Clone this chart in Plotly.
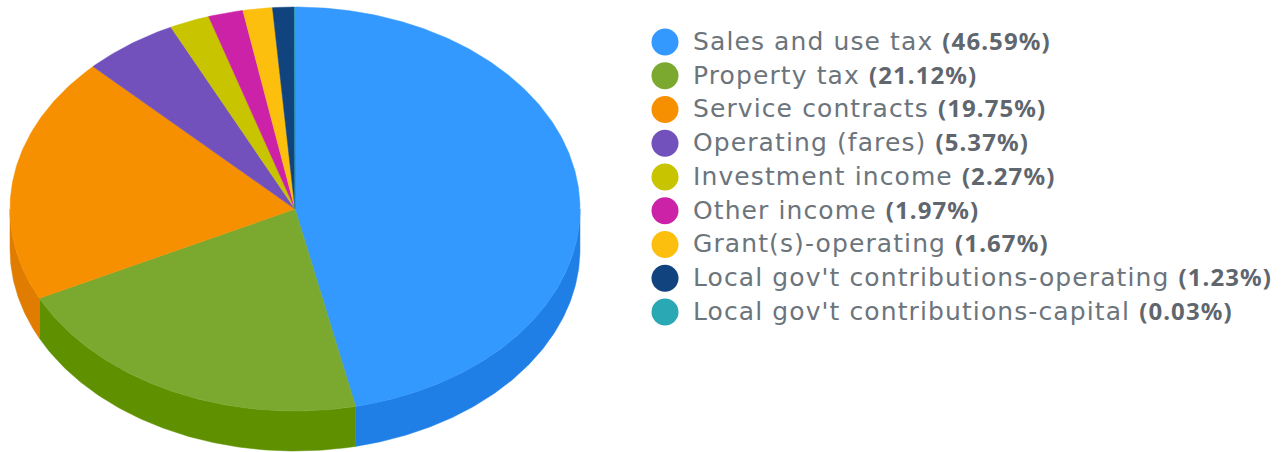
import math
import plotly.graph_objects as go

categories = [
    "Sales and use tax",
    "Property tax",
    "Service contracts",
    "Operating (fares)",
    "Investment income",
    "Other income",
    "Grant(s)-operating",
    "Local gov't contributions-operating",
    "Local gov't contributions-capital",
]
shares = [46.59, 21.12, 19.75, 5.37, 2.27, 1.97, 1.67, 1.23, 0.03]
top_colors = ["#3399FF", "#7BA92F", "#F79000", "#7251BC", "#C8C400",
              "#CB22A8", "#FCBF0E", "#11447F", "#2AA9B5"]
side_colors = ["#1F7FE6", "#5F9000", "#E07C00", "#5A3CA0", "#A8A400",
               "#A81088", "#D8A000", "#0A3060", "#1A8C98"]

CX, CY, RX, RY, DEPTH = 295, 209, 285, 202, 40
LEGEND_Y0, LEGEND_STEP = 42, 33.75
total = sum(shares)


def arc(t0, t1, dy=0.0):
    n = max(2, int(abs(t1 - t0) * 1.5))
    ts = [t0 + (t1 - t0) * i / n for i in range(n + 1)]
    xs = [CX + RX * math.sin(math.radians(t)) for t in ts]
    ys = [CY - RY * math.cos(math.radians(t)) + dy for t in ts]
    return xs, ys


fig = go.Figure()
start = 0.0
spans = []
for value in shares:
    end = start + value / total * 360
    spans.append((start, end))
    start = end

# Rim of the disc: only the part facing the viewer is visible
for (t0, t1), colour, name in zip(spans, side_colors, categories):
    a, b = max(t0, 90), min(t1, 270)
    if b <= a:
        continue
    x1, y1 = arc(a, b)
    x2, y2 = arc(b, a, DEPTH)
    fig.add_trace(go.Scatter(x=x1 + x2 + x1[:1], y=y1 + y2 + y1[:1], mode="lines",
                             fill="toself", fillcolor=colour,
                             line=dict(color=colour, width=0.5),
                             name=name, hoverinfo="name", showlegend=False))

# Top face wedges
for (t0, t1), colour, name in zip(spans, top_colors, categories):
    xs, ys = arc(t0, t1)
    fig.add_trace(go.Scatter(x=[CX] + xs + [CX], y=[CY] + ys + [CY], mode="lines",
                             fill="toself", fillcolor=colour,
                             line=dict(color=colour, width=0.5),
                             name=name, hoverinfo="name", showlegend=False))

# Key with coloured dots and labelled shares
rows = [LEGEND_Y0 + LEGEND_STEP * i for i in range(len(categories))]
fig.add_trace(go.Scatter(
    x=[665] * len(rows), y=rows, mode="markers",
    marker=dict(size=27, color=top_colors, line=dict(width=0)),
    hoverinfo="skip", showlegend=False))
fig.add_trace(go.Scatter(
    x=[693] * len(rows), y=[r + 1.5 for r in rows], mode="text",
    text=[f"{c} <span style=\"font-family:'Noto Sans';font-size:24px;fill:#5F666E\"><b>({v:.2f}%)</b></span>"
          for c, v in zip(categories, shares)],
    textposition="middle right",
    textfont=dict(family="DejaVu Sans", size=25, color="#6C747C"),
    hoverinfo="skip", showlegend=False))

fig.update_layout(
    width=1286, height=452, margin=dict(l=0, r=0, t=0, b=0),
    paper_bgcolor="white", plot_bgcolor="white", autosize=False,
    xaxis=dict(range=[0, 1286], visible=False, fixedrange=True),
    yaxis=dict(range=[452, 0], visible=False, fixedrange=True),
)
# Wider tracking for the key labels
tracking = "document.querySelectorAll('.textpoint text').forEach(t => { t.style.letterSpacing = '1.1px'; });"
fig.write_html("out.html", post_script=tracking)
